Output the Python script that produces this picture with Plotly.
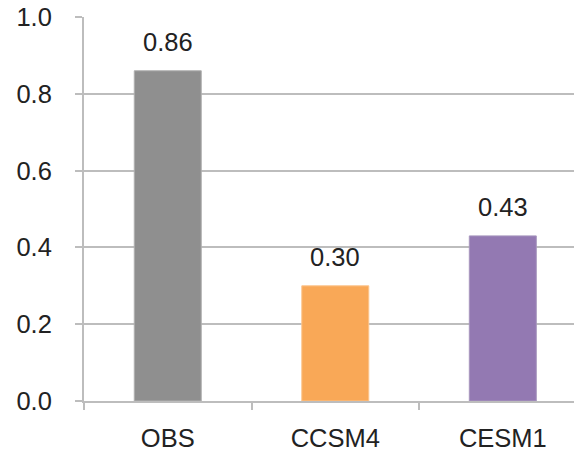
import plotly.graph_objects as go

categories = ["OBS", "CCSM4", "CESM1"]
values = [0.86, 0.30, 0.43]
bar_colors = ["#8f8f8f", "#f9a857", "#9379b2"]
edge_colors = ["#b0b0b0", "#fbc58f", "#a898bf"]
y_ticks = [0.0, 0.2, 0.4, 0.6, 0.8, 1.0]

font_family = "Liberation Sans, Arial, sans-serif"
grid_color = "#bdbdbd"

fig = go.Figure()
fig.add_trace(go.Bar(
    x=categories,
    y=values,
    width=0.4,
    marker=dict(color=bar_colors, line=dict(color=edge_colors, width=1)),
    hoverinfo="skip",
))

for cat, v in zip(categories, values):
    fig.add_annotation(
        x=cat, y=v, text=f"{v:.2f}", showarrow=False,
        yanchor="bottom", yshift=13,
        font=dict(family=font_family, size=25.5, color="#222222"),
    )

fig.update_layout(
    width=574, height=452,
    margin=dict(l=84, r=0, t=17, b=47),
    paper_bgcolor="white", plot_bgcolor="white",
    showlegend=False,
    font=dict(family=font_family, size=25.5, color="#222222"),
    xaxis=dict(
        type="category",
        range=[-0.5, 2.425],
        showline=True, linecolor=grid_color, linewidth=2,
        ticks="outside", tickson="boundaries", ticklen=7,
        tickcolor=grid_color, tickwidth=2,
        showgrid=False,
        ticklabelstandoff=13,
    ),
    yaxis=dict(
        range=[0, 1.0],
        tickvals=y_ticks,
        ticktext=[f"{t:.1f}" for t in y_ticks],
        showline=True, linecolor=grid_color, linewidth=2,
        ticks="outside", ticklen=7, tickcolor=grid_color, tickwidth=2,
        showgrid=True, gridcolor=grid_color, gridwidth=2,
        zeroline=False,
        ticklabelstandoff=18,
    ),
)

fig.write_html("out.html")
